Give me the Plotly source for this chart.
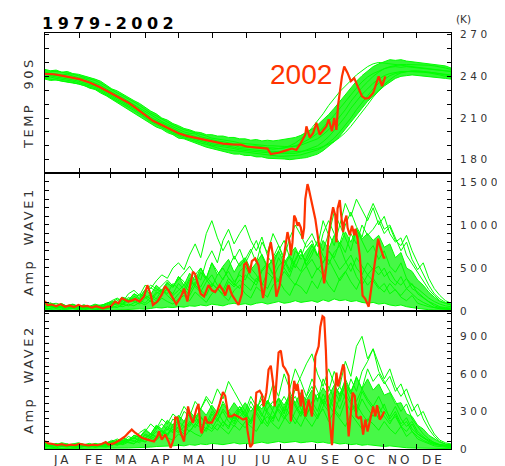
import plotly.graph_objects as go

# ---------------- data ----------------
DAYS = list(range(0, 366, 5))  # sampling days of year for the 1979-2001 curves
MONTH_START = [0, 31, 59, 90, 120, 151, 181, 212, 243, 273, 304, 334, 365]
MONTHS = ["JA", "FE", "MA", "AP", "MA", "JU", "JU", "AU", "SE", "OC", "NO", "DE"]

TEMP_TICKS = list(range(180, 271, 10))
TEMP_LABELS = [180, 210, 240, 270]
W1_TICKS = list(range(0, 1601, 100))
W1_LABELS = [0, 500, 1000, 1500]
W2_TICKS = list(range(0, 1081, 60))
W2_LABELS = [0, 300, 600, 900]

# Dense spread of the 1979-2001 curves (lower / upper edge of the green mass)
TEMP_LO = [238, 237, 237.5, 236.5, 236, 235, 234.5,
           233.5, 231.5, 230.5, 228, 226,
           223.5, 221, 219, 216.5, 213.5, 211, 208.5,
           206, 203.5, 202, 199.5, 198, 195.5,
           195, 193, 192, 190.5, 189, 188, 186.5, 186, 185, 184, 184, 183,
           183, 182, 182, 181, 181, 180.5, 180.5, 180, 180.5, 181, 181.5, 182.5,
           184, 186.5, 189.5, 193, 197, 202, 207, 212, 217, 222, 226, 229.5,
           233, 236, 238.5, 240, 240.5, 241, 240.5, 240.5, 240, 239.5, 239, 238.5,
           238]
TEMP_HI = [245, 244, 244.5, 243, 243.5, 242, 241.5,
           240.5, 239.5, 238, 236.5, 233.5,
           231, 229.5, 227, 225, 222.5, 220.5, 217.5,
           215, 213, 210, 208.5, 206, 204.5,
           202.5, 201.5, 200, 199.5, 198, 198, 197, 197, 196, 196, 195, 195,
           194, 194.5, 193.5, 194, 193.5, 194, 194.5, 195.5, 196, 197.5, 199.5, 202,
           205, 208.5, 212.5, 217, 222, 227, 232, 236.5, 240.5, 244, 247, 249,
           250.5, 252, 251.5, 252, 251, 250.5, 250.5, 249.5, 249.5, 248.5, 248, 247.5,
           246]
W1_LO = [5, 5, 8, 5, 5, 5, 5, 5, 5, 5, 5, 5,
         8, 10, 15, 12, 20, 25, 20, 30, 40, 35, 45, 40,
         50, 45, 60, 55, 70, 60, 80, 70, 60, 80, 90, 75,
         85, 70, 90, 100, 80, 95, 110, 90, 100, 120, 100, 110,
         120, 100, 130, 110, 140, 120, 130, 110, 120, 100, 90, 100,
         80, 90, 70, 60, 70, 50, 40, 30, 20, 15, 10, 8,
         5, 5]
W1_HI = [75, 95, 60, 85, 55, 75, 50, 70, 55, 80, 60, 90,
         110, 90, 160, 120, 200, 150, 250, 190, 300, 240, 340, 270,
         400, 300, 440, 360, 500, 380, 560, 420, 520, 600, 450, 560,
         620, 480, 560, 660, 520, 600, 700, 560, 660, 740, 600, 700,
         780, 640, 820, 720, 880, 760, 920, 800, 960, 840, 900, 820,
         880, 740, 780, 620, 680, 500, 460, 360, 300, 220, 160, 110,
         90, 70]
W2_LO = [3, 3, 5, 3, 3, 3, 3, 3, 3, 3, 3, 3,
         5, 5, 8, 8, 10, 12, 15, 15, 20, 20, 25, 25,
         30, 25, 35, 30, 40, 35, 45, 40, 35, 45, 50, 40,
         45, 40, 50, 55, 45, 50, 60, 50, 55, 60, 50, 55,
         60, 50, 55, 45, 50, 40, 45, 35, 40, 30, 35, 30,
         25, 20, 25, 15, 15, 10, 8, 5, 5, 3, 3, 3,
         3, 3]
W2_HI = [45, 30, 40, 28, 38, 30, 36, 28, 40, 30, 42, 50,
         60, 50, 85, 70, 110, 95, 150, 120, 190, 160, 230, 190,
         270, 220, 300, 250, 320, 270, 350, 290, 360, 300, 370, 310,
         370, 300, 360, 320, 390, 330, 410, 350, 430, 370, 450, 390,
         470, 400, 490, 420, 510, 440, 540, 460, 570, 480, 560, 470,
         520, 430, 450, 360, 370, 280, 260, 190, 160, 110, 80, 55,
         40, 35]

# Temperature 90S (K), individual other years
TEMP_Y1 = [243, 242.5, 242, 241, 241.5, 240, 239, 238.5, 237, 235.5, 233.5, 231,
           228.5, 226.5, 224.5, 222, 220, 217, 214.5, 212, 210, 207.5, 205.5, 203.5,
           202, 200, 199, 198.5, 196.5, 195.5, 194, 193.5, 193, 192, 191.5, 190.5,
           190, 189.5, 190, 189, 188.5, 188.5, 188, 188.5, 189, 190, 191.5, 193.5,
           196, 199, 203, 207.5, 212, 217, 222, 227, 231.5, 236, 239.5, 242,
           244, 245.5, 246.5, 247, 246.5, 247, 246.5, 246, 246, 245.5, 245, 244.5,
           244, 243.5]
TEMP_Y2 = [240, 240.5, 239.5, 239, 238.5, 237.5, 236.5, 235.5, 234.5, 233, 231, 228.5,
           226, 224, 222, 220, 217.5, 215, 212, 209.5, 207.5, 205, 203, 201,
           199, 197.5, 196.5, 195.5, 194, 193, 191.5, 191, 190, 189.5, 189, 188,
           187.5, 187, 187, 186.5, 186, 186, 185.5, 185.5, 185.5, 185.5, 186, 186.5,
           187, 188, 189.5, 191, 193, 196, 199.5, 204, 209, 214, 219.5, 225,
           229.5, 234, 237.5, 240.5, 242.5, 243.5, 244, 244, 243.5, 243, 242.5, 242,
           241.5, 241]
TEMP_Y3 = [239, 239.5, 238.5, 238, 237, 236.5, 235.5, 234.5, 233.5, 232, 230, 227.5,
           225, 223, 221, 219, 216.5, 214, 211, 208.5, 206.5, 204, 202, 200,
           198, 196.5, 195.5, 194.5, 193, 192, 190.5, 190, 189, 188.5, 188, 187,
           186.5, 186, 186, 185.5, 185, 185, 184.5, 184.5, 184.5, 184.5, 185.5, 187,
           188.5, 190, 193, 196.5, 201, 206, 211, 217, 222, 227, 231, 235,
           238, 240.5, 242, 243, 243.5, 243.5, 243.5, 243.5, 243, 243, 242.5, 242,
           241, 240]
TEMP_Y4 = [244, 244, 243.5, 243, 242.5, 241.5, 240.5, 239.5, 238.5, 237, 235, 232.5,
           230, 228, 226, 224, 221.5, 219, 216, 213.5, 211.5, 209, 207, 205,
           203, 201.5, 200.5, 199.5, 198, 197, 195.5, 195, 194, 193.5, 193, 192,
           191.5, 191, 191, 190.5, 190, 190, 189.5, 189.5, 189.5, 189.5, 190.5, 192,
           193.5, 195, 198, 201.5, 206, 211, 216, 222, 227, 232, 236, 240,
           243, 245.5, 247, 248, 248.5, 248.5, 248.5, 248.5, 248, 248, 247.5, 247,
           246, 245]
TEMP_Y5 = [241.5, 241, 241, 240, 239.5, 239, 237.5, 237, 235.5, 234.5, 232, 230,
           227.5, 225.5, 223, 221.5, 219, 216, 213.5, 210.5, 208.5, 206.5, 204, 202.5,
           200.5, 198.5, 198, 196.5, 195.5, 194, 193, 192, 191.5, 190.5, 190.5, 189,
           189, 188.5, 188.5, 188, 188, 187.5, 188, 188.5, 190, 192, 195, 198.5,
           203, 208, 213, 219, 224, 229, 233, 237, 241, 244, 247, 249,
           250, 249.5, 249, 248, 247.5, 247, 246.5, 246.5, 246, 245.5, 245, 244.5,
           244, 243.5]
TEMP_Y6 = [238.5, 238, 237.5, 237, 236.5, 235.5, 234.5, 233.5, 232.5, 231, 229, 226.5,
           224, 222, 220, 218, 215.5, 213, 210, 207.5, 205.5, 203, 201, 199,
           197, 195.5, 194.5, 193, 192, 191, 189.5, 188.5, 187.5, 187, 186.5, 185.5,
           185, 184.5, 184, 183.5, 183, 183, 182.5, 182.5, 182.5, 183, 183.5, 184.5,
           185.5, 187, 189, 192, 195.5, 200, 205, 210, 216, 221, 226, 231,
           235, 238, 240.5, 242, 243, 243.5, 243.5, 243.5, 243, 242.5, 242, 241,
           240, 239.5]

# Wave-1 amplitude, individual other years
W1_Y1 = [60, 45, 55, 40, 35, 50, 30, 40, 25, 35, 45, 30,
         60, 90, 70, 120, 150, 110, 180, 140, 220, 190, 260, 200,
         320, 250, 380, 300, 450, 360, 280, 420, 500, 380, 300, 460,
         520, 400, 340, 480, 560, 430, 620, 500, 400, 580, 700, 540,
         650, 820, 700, 900, 760, 1000, 850, 700, 950, 820, 680, 760,
         600, 700, 520, 450, 560, 380, 300, 260, 200, 150, 110, 80,
         60, 50]
W1_Y2 = [100, 80, 90, 70, 60, 75, 55, 65, 50, 60, 70, 80,
         120, 150, 110, 200, 240, 180, 300, 260, 350, 420, 380, 500,
         560, 480, 650, 780, 620, 900, 1050, 850, 700, 820, 600, 720,
         550, 680, 820, 640, 500, 620, 760, 580, 450, 600, 720, 520,
         380, 500, 420, 600, 480, 350, 450, 560, 400, 300, 420, 350,
         260, 320, 200, 250, 160, 120, 180, 90, 70, 50, 40, 30,
         25, 30]
W1_Y3 = [30, 20, 25, 15, 20, 30, 15, 20, 10, 15, 20, 25,
         40, 60, 50, 80, 60, 100, 70, 120, 90, 150, 110, 80,
         140, 180, 120, 220, 160, 100, 200, 260, 180, 120, 240, 300,
         200, 150, 280, 220, 160, 300, 360, 250, 180, 320, 280, 200,
         350, 260, 420, 300, 220, 380, 460, 340, 250, 400, 300, 380,
         280, 220, 320, 240, 180, 260, 200, 140, 100, 70, 40, 25,
         20, 15]
W1_Y4 = [50, 60, 40, 55, 45, 30, 40, 35, 50, 40, 30, 35,
         50, 40, 80, 60, 100, 130, 90, 160, 120, 200, 250, 180,
         240, 300, 220, 340, 280, 400, 320, 250, 380, 460, 340, 420,
         360, 500, 420, 300, 450, 380, 520, 600, 480, 700, 620, 800,
         900, 750, 1050, 880, 1150, 1000, 1250, 1100, 1300, 1180, 1050, 1200,
         1000, 1100, 900, 800, 850, 650, 550, 450, 350, 250, 180, 120,
         90, 70]
W1_Y5 = [80, 70, 60, 85, 50, 45, 60, 55, 40, 50, 60, 45,
         80, 120, 160, 130, 200, 170, 240, 300, 260, 220, 320, 280,
         400, 340, 260, 420, 500, 380, 560, 460, 360, 500, 640, 520,
         600, 720, 560, 800, 680, 900, 760, 620, 850, 1000, 880, 740,
         820, 650, 560, 700, 600, 480, 560, 650, 500, 420, 560, 480,
         520, 400, 460, 350, 300, 380, 260, 220, 160, 110, 80, 50,
         40, 35]
W1_Y6 = [20, 35, 45, 30, 25, 40, 35, 25, 30, 20, 35, 40,
         70, 100, 80, 140, 110, 80, 150, 190, 140, 240, 180, 120,
         200, 260, 180, 300, 240, 180, 320, 260, 200, 340, 280, 360,
         300, 240, 380, 320, 260, 400, 340, 460, 380, 300, 440, 520,
         600, 480, 560, 700, 620, 800, 680, 900, 780, 1000, 880, 950,
         1050, 900, 980, 820, 760, 880, 700, 560, 420, 300, 200, 140,
         100, 80]
W1_Y7 = [40, 55, 30, 45, 60, 40, 50, 30, 45, 55, 40, 50,
         90, 70, 130, 100, 170, 140, 210, 270, 230, 300, 360, 290,
         360, 440, 520, 420, 360, 580, 700, 560, 820, 950, 780, 900,
         1000, 820, 700, 860, 640, 540, 700, 820, 620, 500, 660, 580,
         700, 800, 640, 540, 680, 760, 580, 460, 620, 520, 420, 500,
         420, 500, 360, 300, 400, 260, 320, 200, 150, 100, 60, 40,
         30, 25]
W1_Y8 = [90, 60, 70, 50, 65, 80, 55, 70, 45, 60, 50, 70,
         100, 140, 90, 160, 120, 200, 160, 110, 200, 250, 200, 320,
         260, 200, 360, 280, 220, 340, 420, 300, 240, 380, 320, 260,
         420, 360, 300, 460, 540, 420, 360, 520, 640, 540, 460, 620,
         760, 640, 900, 1050, 900, 780, 1000, 1150, 980, 860, 1100, 1250,
         1100, 950, 1000, 850, 700, 800, 600, 480, 560, 380, 260, 180,
         120, 90]

# Wave-2 amplitude, individual other years
W2_Y1 = [30, 20, 25, 35, 20, 15, 25, 20, 30, 15, 20, 25,
         40, 30, 50, 70, 60, 90, 80, 120, 100, 150, 120, 180,
         140, 220, 180, 260, 200, 160, 280, 220, 320, 260, 200, 300,
         240, 340, 280, 200, 320, 380, 300, 240, 360, 420, 320, 260,
         380, 300, 440, 360, 280, 420, 500, 380, 300, 460, 380, 320,
         280, 360, 240, 300, 200, 250, 160, 120, 90, 60, 40, 30,
         25, 20]
W2_Y2 = [40, 30, 45, 25, 30, 40, 35, 25, 30, 40, 30, 35,
         50, 40, 70, 60, 90, 70, 110, 90, 140, 110, 160, 130,
         180, 140, 220, 170, 250, 200, 160, 240, 300, 220, 180, 260,
         300, 220, 360, 280, 200, 320, 400, 300, 460, 360, 280, 420,
         500, 380, 560, 460, 620, 500, 700, 580, 820, 900, 720, 800,
         620, 540, 460, 380, 300, 360, 240, 180, 120, 80, 50, 35,
         30, 25]
W2_Y3 = [20, 15, 10, 20, 25, 15, 10, 20, 15, 25, 20, 15,
         30, 50, 40, 70, 90, 60, 120, 100, 160, 200, 150, 240,
         200, 300, 260, 380, 320, 420, 360, 480, 400, 540, 460, 380,
         300, 420, 340, 260, 380, 300, 220, 340, 280, 200, 300, 240,
         180, 260, 320, 220, 300, 240, 180, 280, 220, 160, 240, 200,
         150, 220, 160, 120, 180, 100, 140, 80, 60, 40, 25, 20,
         15, 10]
W2_Y4 = [50, 40, 35, 45, 30, 40, 50, 35, 45, 30, 35, 40,
         60, 80, 60, 100, 80, 130, 160, 120, 180, 140, 100, 200,
         160, 120, 200, 260, 180, 140, 240, 300, 220, 160, 280, 340,
         260, 380, 300, 440, 360, 520, 420, 600, 480, 640, 540, 420,
         560, 460, 360, 500, 400, 320, 440, 360, 280, 400, 320, 260,
         340, 260, 200, 280, 180, 220, 140, 100, 70, 50, 35, 30,
         25, 30]
W2_Y5 = [25, 35, 20, 30, 40, 25, 30, 20, 25, 35, 25, 30,
         45, 35, 60, 50, 40, 80, 60, 100, 80, 120, 180, 140,
         220, 180, 140, 200, 260, 200, 300, 240, 180, 280, 220, 320,
         260, 200, 300, 360, 280, 220, 340, 420, 340, 480, 580, 680,
         760, 600, 500, 640, 520, 420, 560, 460, 380, 480, 400, 340,
         420, 320, 260, 340, 240, 180, 220, 140, 100, 60, 45, 30,
         20, 25]
W2_Y6 = [15, 20, 30, 20, 15, 25, 20, 30, 20, 15, 25, 20,
         30, 45, 35, 55, 45, 70, 55, 85, 70, 110, 90, 70,
         120, 90, 150, 120, 100, 170, 140, 200, 160, 120, 190, 150,
         220, 180, 140, 220, 260, 200, 160, 240, 300, 240, 180, 280,
         340, 260, 400, 320, 460, 380, 520, 440, 580, 480, 640, 540,
         600, 520, 580, 460, 520, 400, 300, 360, 240, 160, 100, 60,
         40, 30]
W2_Y7 = [35, 25, 40, 30, 20, 30, 40, 25, 35, 20, 30, 45,
         70, 55, 90, 70, 110, 90, 140, 200, 160, 240, 200, 280,
         240, 340, 280, 220, 320, 400, 320, 260, 380, 300, 240, 340,
         280, 220, 320, 400, 300, 240, 360, 280, 420, 340, 260, 380,
         300, 240, 340, 420, 320, 260, 380, 300, 360, 280, 220, 320,
         240, 300, 220, 260, 180, 140, 200, 120, 90, 70, 50, 35,
         30, 35]
W2_Y8 = [45, 30, 35, 50, 40, 30, 45, 40, 30, 45, 35, 30,
         55, 70, 50, 80, 65, 50, 90, 120, 90, 140, 110, 160,
         130, 180, 140, 200, 170, 240, 190, 150, 220, 180, 260, 210,
         170, 240, 300, 230, 180, 260, 320, 260, 200, 300, 360, 280,
         340, 440, 360, 300, 420, 500, 400, 560, 460, 620, 700, 800,
         680, 560, 640, 500, 420, 480, 360, 260, 300, 200, 120, 70,
         50, 40]

# Year 2002
T2002_DAYS = [0, 8, 15, 23, 31, 40, 50, 59, 67, 75, 82, 90, 97, 105, 112, 120, 128,
              136, 143, 151, 160, 168, 176, 181, 188, 196, 200, 203, 210, 216, 222,
              226, 230, 234, 235, 238, 241, 244, 247, 250, 253, 255, 258, 260, 262,
              263.5, 265, 267, 269, 272, 275, 278, 281, 285, 288, 291, 295, 300,
              303, 306]
T2002 = [241.8, 241.5, 240.5, 239.5, 238, 235.5, 232, 228, 224.5, 221, 217, 212,
         208, 205, 202, 199, 197, 195.5, 194.5, 193, 191.5, 191, 190.8, 189.5,
         189, 188.4, 188, 184, 185, 186.5, 188, 187, 192, 198, 204, 196, 199,
         206.5, 198, 201, 204, 209, 200.5, 210, 201.5, 219.5, 230, 240, 247,
         242.5, 236.5, 238.7, 233, 225.6, 224, 224.4, 228, 240, 233, 240]

W1_2002_DAYS = [0, 2, 6, 10, 14, 18, 22, 26, 30, 34, 38, 42, 46, 50, 52, 56, 59, 63,
                66, 69, 72, 75, 78, 81, 85, 89, 92, 95, 97, 101, 105, 108, 111, 114,
                118, 121, 123, 125, 128, 131, 133, 135, 137, 140, 143, 147, 150, 153,
                157, 160, 162, 165, 168, 171, 174, 177, 179, 181, 184, 186, 189, 192,
                194, 196, 198, 201, 203, 205, 206.5, 208, 211, 213, 216, 218, 220,
                221, 222.5, 224, 225.5, 227, 228, 230, 231.5, 233, 234, 236, 237,
                240, 243, 246, 249, 251, 253, 255, 257, 259, 261, 262, 263, 265,
                266, 268, 269, 271, 272, 274, 276, 278, 279, 281, 283, 284, 285.5,
                288, 291, 292, 294.5, 297, 299.5, 301, 302, 304.5, 306]
W1_2002 = [115, 70, 75, 55, 80, 50, 65, 45, 70, 50, 60, 40, 55, 35, 30, 50, 50, 110,
           90, 150, 130, 110, 120, 140, 110, 170, 300, 190, 70, 110, 190, 290, 240,
           170, 80, 140, 190, 260, 110, 340, 455, 430, 340, 200, 170, 300, 240, 220,
           300, 240, 180, 300, 190, 130, 70, 200, 540, 560, 440, 580, 610, 530, 340,
           150, 300, 686, 800, 640, 380, 166, 300, 490, 720, 917, 800, 646, 800,
           1110, 1070, 990, 1030, 970, 840, 970, 1300, 1475, 1430, 1260, 1070, 800,
           530, 320, 530, 880, 1070, 1205, 1110, 800, 1190, 1290, 1150, 917, 1030,
           1110, 970, 880, 990, 880, 955, 840, 640, 420, 180, 140, 50, 140, 380,
           610, 840, 760, 720, 620, 620]

W2_2002_DAYS = [0, 3, 7, 11, 15, 19, 23, 27, 31, 35, 39, 43, 47, 51, 54.6, 57, 62, 67,
                72, 75, 78, 81, 84, 87, 92, 95, 98, 101, 102.5, 105, 108, 111, 113,
                116, 117, 119, 122, 125, 127, 128.6, 130.6, 133, 136, 138, 140, 141,
                144, 146, 150, 154.5, 157, 160, 162, 165, 168, 170, 173.5, 178, 181,
                182, 184.5, 186.5, 188, 190, 193, 195, 196.5, 199, 201, 203, 205,
                206.5, 208, 210, 212, 214, 216, 219, 221, 222, 224, 226, 227, 230,
                231, 234, 237, 240, 242, 243, 246, 247.5, 249.5, 251, 252.5, 254,
                256, 258, 260, 262, 263.5, 266, 268, 269, 271, 273, 274.5, 276.5,
                278.5, 280, 282, 284, 286, 288, 290, 293, 295, 297, 298.5, 301, 303,
                305]
W2_2002 = [62, 45, 40, 30, 38, 28, 35, 30, 40, 32, 28, 35, 30, 40, 56, 35, 45, 70,
           100, 130, 155, 130, 110, 90, 75, 70, 60, 100, 140, 75, 115, 60, 8, 90,
           250, 250, 130, 60, 200, 340, 260, 210, 315, 360, 150, 125, 260, 210, 210,
           290, 360, 455, 425, 260, 260, 275, 260, 235, 245, 150, 15, 40, 220, 450,
           465, 435, 340, 450, 635, 665, 530, 340, 530, 770, 785, 665, 640, 585,
           220, 340, 545, 465, 520, 340, 475, 260, 395, 260, 500, 740, 820, 975,
           1060, 1050, 790, 400, 240, 30, 340, 610, 500, 610, 675, 650, 395, 100,
           240, 450, 425, 260, 245, 260, 115, 235, 140, 260, 340, 260, 350, 235,
           260, 300]

TEMP_OTHERS = [TEMP_Y1, TEMP_Y2, TEMP_Y3, TEMP_Y4, TEMP_Y5, TEMP_Y6]
W1_OTHERS = [W1_Y1, W1_Y2, W1_Y3, W1_Y4, W1_Y5, W1_Y6, W1_Y7, W1_Y8]
W2_OTHERS = [W2_Y1, W2_Y2, W2_Y3, W2_Y4, W2_Y5, W2_Y6, W2_Y7, W2_Y8]

# ---------------- style ----------------
GREEN = "#00ff00"
RED = "#ff3300"
TXT = "#333333"
FONT = "DejaVu Sans"


def spaced(s, px):
    return '<span style="letter-spacing:%spx">%s</span>' % (px, s)


fig = go.Figure()

panels = [
    ("x", "y", TEMP_LO, TEMP_HI, TEMP_OTHERS, T2002_DAYS, T2002, "rgba(0,245,0,0.8)"),
    ("x2", "y2", W1_LO, W1_HI, W1_OTHERS, W1_2002_DAYS, W1_2002, "rgba(0,245,0,0.72)"),
    ("x3", "y3", W2_LO, W2_HI, W2_OTHERS, W2_2002_DAYS, W2_2002, "rgba(0,245,0,0.72)"),
]
for xa, ya, lo, hi, others, rd, rv, fc in panels:
    fig.add_trace(go.Scatter(x=DAYS + DAYS[::-1], y=hi + lo[::-1], mode="lines",
                             fill="toself", fillcolor=fc,
                             line=dict(color=GREEN, width=1), xaxis=xa, yaxis=ya,
                             hoverinfo="skip", showlegend=False))
    for vals in others:
        fig.add_trace(go.Scatter(x=DAYS, y=vals, mode="lines", xaxis=xa, yaxis=ya,
                                 line=dict(color=GREEN, width=1), hoverinfo="skip",
                                 showlegend=False))
    fig.add_trace(go.Scatter(x=rd, y=rv, mode="lines", xaxis=xa, yaxis=ya,
                             line=dict(color=RED, width=2.2), hoverinfo="skip",
                             showlegend=False))

H = 416.0
dom3 = [0, 138 / H]
dom2 = [138 / H, 276 / H]
dom1 = [276 / H, 1]

centers = [(MONTH_START[i] + MONTH_START[i + 1]) / 2 for i in range(12)]


def xaxis_cfg(anchor):
    return dict(anchor=anchor, range=[0, 365], showgrid=False, zeroline=False,
                showline=True, linecolor="black", linewidth=1, mirror="ticks",
                tickmode="array", tickvals=MONTH_START, ticks="inside", ticklen=5,
                tickcolor="black", showticklabels=False)


def yaxis_cfg(anchor, dom, rng, ticks, labels):
    return dict(anchor=anchor, domain=dom, range=rng, side="right",
                showgrid=False, zeroline=False, showline=True, linecolor="black",
                linewidth=1, mirror="ticks", tickmode="array", tickvals=ticks,
                ticktext=[spaced(str(v), 3.5) if v in labels else "" for v in ticks],
                ticks="inside", ticklen=4, tickcolor="black",
                tickfont=dict(family=FONT, size=10.5, color=TXT),
                ticklabelstandoff=6)


fig.update_layout(
    width=505, height=466,
    margin=dict(l=37, r=48, t=25, b=25),
    paper_bgcolor="white", plot_bgcolor="white",
    showlegend=False,
    xaxis=xaxis_cfg("y"),
    xaxis2=xaxis_cfg("y2"),
    xaxis3=xaxis_cfg("y3"),
    yaxis=yaxis_cfg("x", dom1, [170.4, 271.2], TEMP_TICKS, TEMP_LABELS),
    yaxis2=yaxis_cfg("x2", dom2, [0, 1604], W1_TICKS, W1_LABELS),
    yaxis3=yaxis_cfg("x3", dom3, [0, 1102], W2_TICKS, W2_LABELS),
)

ann = [
    dict(text=spaced("1979-2002", 4.5), xref="paper", yref="paper", x=0.0, y=1.0,
         xanchor="left", yanchor="middle", xshift=-5, yshift=10, showarrow=False,
         font=dict(family=FONT, size=16, color="black", weight="bold")),
    dict(text="(K)", xref="paper", yref="paper", x=1.0, y=1.0, xanchor="left",
         yanchor="middle", xshift=3, yshift=14, showarrow=False,
         font=dict(family=FONT, size=10.5, color=TXT)),
    dict(text="2002", xref="x", yref="y", x=230, y=241, showarrow=False,
         font=dict(family="Liberation Sans", size=28, color=RED)),
]
for m, c in zip(MONTHS, centers):
    ann.append(dict(text=spaced(m, 3), xref="x3", yref="paper", x=c, y=0,
                    yshift=-11, xanchor="center", yanchor="middle", showarrow=False,
                    font=dict(family=FONT, size=12, color=TXT)))
for txt, dom in [("TEMP  90S", dom1), ("Amp  WAVE1", dom2), ("Amp  WAVE2", dom3)]:
    ann.append(dict(text=spaced(txt, 2.5), xref="paper", yref="paper",
                    x=0, xshift=-17, y=(dom[0] + dom[1]) / 2, textangle=-90,
                    xanchor="center", yanchor="middle", showarrow=False,
                    font=dict(family=FONT, size=13, color=TXT)))
fig.update_layout(annotations=ann)

fig.write_html("out.html")
